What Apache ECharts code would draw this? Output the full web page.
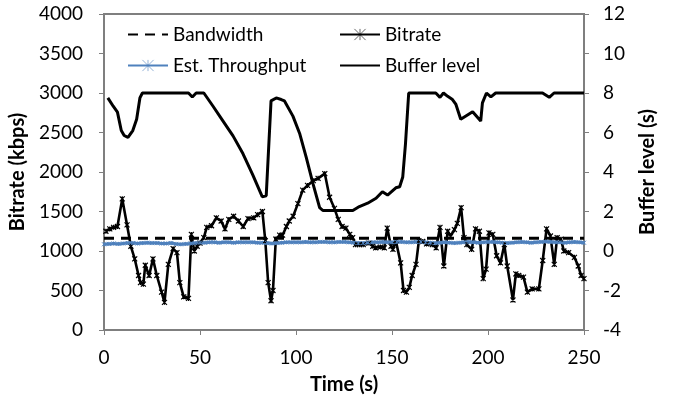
<!DOCTYPE html>
<html><head><meta charset="utf-8">
<script src="https://cdn.jsdelivr.net/npm/echarts@6/dist/echarts.min.js"></script>
<style>html,body{margin:0;padding:0;background:#fff}#c{width:673px;height:400px}</style>
</head><body><div id="c"></div>
<script>
// ---- data ----
var xTicks = [0, 50, 100, 150, 200, 250];
var leftTicks = [0, 500, 1000, 1500, 2000, 2500, 3000, 3500, 4000];
var rightTicks = [-4, -2, 0, 2, 4, 6, 8, 10, 12];

var bandwidthTime = [0, 250];
var bandwidthValue = [1160, 1160];

var bitrateTime = [1,3,5,7,9.5,12,14,16,18,19,20.5,21.5,23.5,25.5,27.5,30,31.5,33.5,36,38,39.5,41.5,44,45.5,47,48.5,50,52,53.5,56,58.5,61,63,65,67.5,70,72.5,75,78,80,82.5,84,85.5,87,88,89.5,91.5,93,95,96.5,98.5,101,103.5,106,109,111.5,115,117.5,120,122,124,126,128,129.5,131,133,135,138,140,141.5,144,146,147.5,149.5,150.5,152,154.5,156,157.5,159,160.5,162.5,164,166,168,171,173,175,177,179,180.5,182.5,184,186,187.5,189,191.5,193.5,195.5,197.5,199,200.5,202.5,204.5,206.5,208.5,210,213,214.5,216,218.5,220.5,223,226.5,228.5,230.5,232.5,234.5,236,238,239.5,242,245,247,248.5,250];
var bitrateValue = [1250,1280,1300,1310,1660,1330,1060,900,690,600,580,820,690,900,690,480,350,830,1030,980,600,420,400,1210,1000,1060,1100,1170,1300,1320,1420,1380,1280,1400,1440,1380,1310,1410,1420,1460,1500,1130,600,370,500,1150,1200,1200,1310,1380,1440,1600,1770,1830,1890,1920,1980,1680,1540,1400,1310,1290,1210,1170,1080,1080,1080,1100,1060,1040,1050,1040,1290,1060,1020,1130,850,500,480,540,690,830,1130,1120,1090,1080,1040,1300,810,1250,1190,1270,1350,1550,1170,1080,1020,1280,1250,650,770,1230,1210,940,850,1080,810,380,710,690,670,480,520,520,880,1280,1190,830,1170,1150,1000,980,920,810,690,650];

var estTime = [0,2.5,5,7.5,10,12.5,15,17.5,20,22.5,25,27.5,30,32.5,35,37.5,40,42.5,45,47.5,50,52.5,55,57.5,60,62.5,65,67.5,70,72.5,75,77.5,80,82.5,85,87.5,90,92.5,95,97.5,100,102.5,105,107.5,110,112.5,115,117.5,120,122.5,125,127.5,130,132.5,135,137.5,140,142.5,145,147.5,150,152.5,155,157.5,160,162.5,165,167.5,170,172.5,175,177.5,180,182.5,185,187.5,190,192.5,195,197.5,200,202.5,205,207.5,210,212.5,215,217.5,220,222.5,225,227.5,230,232.5,235,237.5,240,242.5,245,247.5,250];
var estValue = [1085,1090,1095,1090,1095,1100,1100,1095,1100,1105,1100,
1100,1095,1095,1100,1090,1085,1090,1095,1100,1105,
1105,1110,1110,1105,1110,1110,1105,1110,1110,1110,
1110,1105,1105,1100,1095,1100,1105,1110,1110,1110,
1110,1115,1110,1110,1115,1115,1110,1110,1115,1115,
1110,1105,1100,1100,1105,1110,1110,1115,1110,1110,
1115,1115,1110,1110,1115,1115,1110,1105,1100,1105,
1110,1105,1100,1105,1110,1115,1110,1105,1110,1115,
1115,1110,1105,1100,1105,1110,1115,1110,1105,1110,
1115,1120,1115,1110,1110,1105,1110,1115,1110,1105];

var bufferTime = [2,4.8,7,9,10.5,12.5,15,17,18.7,20,44,46,48,52,56.8,62,67.2,72.4,77.6,82.4,84.5,87,89.7,92.3,94,98.4,102,105.3,108.8,112.3,114,129.6,133,137.3,141.7,145,147.7,152,154,155.6,157,158.7,172.8,175,176.8,179,181.5,183.3,185.8,192,196.2,197.1,199.2,201.5,204,228.4,231.9,234.4,250];
var bufferValue = [7.75,7.33,7.03,6.1,5.85,5.75,6.1,6.67,7.75,8,8,7.8,8,8,7.33,6.58,5.83,4.92,3.83,2.75,2.8,7.6,7.75,7.67,7.6,6.83,5.92,4.75,3.42,2.2,2.05,2.05,2.25,2.42,2.67,3,2.83,3.2,3.25,3.75,5.4,8,8,7.78,8,7.83,7.67,7.42,6.67,7.05,6.58,7.5,8,7.8,8,8,7.78,8,8];

function zip(a, b) { return a.map(function (t, i) { return [t, b[i]]; }); }

var FONT = 'Lato';
var AX = '#7f7f7f';
var chart = echarts.init(document.getElementById('c'), null, { renderer: 'canvas' });
var starSym = 'path://M0 0L10 10M10 0L0 10M5 0L5 10';
var legText = { fontFamily: FONT, fontSize: 19, color: '#000' };
var titleText = { fontFamily: FONT, fontSize: 20, fontWeight: 'bold', color: '#000' };
var tickText = { fontFamily: FONT, fontSize: 19, color: '#000' };

chart.setOption({
  animation: false,
  textStyle: { fontFamily: FONT },
  grid: { left: 104, right: 89, top: 14, bottom: 66, show: true, borderColor: AX, borderWidth: 2 },
  legend: [
    { orient: 'vertical', left: 122, top: 20, itemGap: 12, itemWidth: 40, itemHeight: 14,
      textStyle: legText,
      data: [{ name: 'Bandwidth', itemStyle: { opacity: 0 } },
             { name: 'Est. Throughput', itemStyle: { borderWidth: 0.6 } }] },
    { orient: 'vertical', left: 334, top: 20, itemGap: 12, itemWidth: 40, itemHeight: 14,
      textStyle: legText,
      data: [{ name: 'Bitrate', itemStyle: { borderWidth: 0.6 } },
             { name: 'Buffer level', itemStyle: { opacity: 0 } }] }
  ],
  xAxis: {
    type: 'value', min: xTicks[0], max: xTicks[xTicks.length - 1], interval: 50,
    name: 'Time (s)', nameLocation: 'middle', nameGap: 45,
    nameTextStyle: titleText,
    axisLine: { lineStyle: { color: AX, width: 2 } },
    axisTick: { show: true, length: 5, lineStyle: { color: AX, width: 1 } },
    axisLabel: Object.assign({ margin: 18 }, tickText),
    splitLine: { show: false }
  },
  yAxis: [
    { type: 'value', position: 'left', min: leftTicks[0], max: leftTicks[leftTicks.length - 1], interval: 500,
      name: 'Bitrate (kbps)', nameLocation: 'middle', nameGap: 64, nameRotate: 90,
      nameTextStyle: titleText,
      axisLine: { show: true, lineStyle: { color: AX, width: 2 } },
      axisTick: { show: true, length: 5, lineStyle: { color: AX, width: 1 } },
      axisLabel: Object.assign({ margin: 21, formatter: function (v) { return String(v); } }, tickText),
      splitLine: { show: false } },
    { type: 'value', position: 'right', min: rightTicks[0], max: rightTicks[rightTicks.length - 1], interval: 2,
      name: 'Buffer level (s)', nameLocation: 'middle', nameGap: 54, nameRotate: 90,
      nameTextStyle: titleText,
      axisLine: { show: true, lineStyle: { color: AX, width: 2 } },
      axisTick: { show: true, length: 5, lineStyle: { color: AX, width: 1 } },
      axisLabel: Object.assign({ margin: 19 }, tickText),
      splitLine: { show: false } }
  ],
  series: [
    { name: 'Bandwidth', type: 'line', yAxisIndex: 0, data: zip(bandwidthTime, bandwidthValue),
      showSymbol: false, symbol: 'none', color: '#000',
      lineStyle: { color: '#000', width: 3, type: [10, 7] } },
    { name: 'Bitrate', type: 'line', yAxisIndex: 0, data: zip(bitrateTime, bitrateValue),
      symbol: starSym, symbolSize: 5, showAllSymbol: true, color: '#000',
      itemStyle: { color: '#000', borderColor: '#000', borderWidth: 1.2 },
      lineStyle: { color: '#000', width: 2.6 } },
    { name: 'Est. Throughput', type: 'line', yAxisIndex: 0, data: zip(estTime, estValue),
      symbol: starSym, symbolSize: 4, showAllSymbol: true, color: '#4f81bd',
      itemStyle: { color: '#4f81bd', borderColor: '#4f81bd', borderWidth: 1 },
      lineStyle: { color: '#4f81bd', width: 3 } },
    { name: 'Buffer level', type: 'line', yAxisIndex: 1, data: zip(bufferTime, bufferValue),
      showSymbol: false, symbol: 'none', color: '#000',
      lineStyle: { color: '#000', width: 3 } }
  ]
});
</script></body></html>
